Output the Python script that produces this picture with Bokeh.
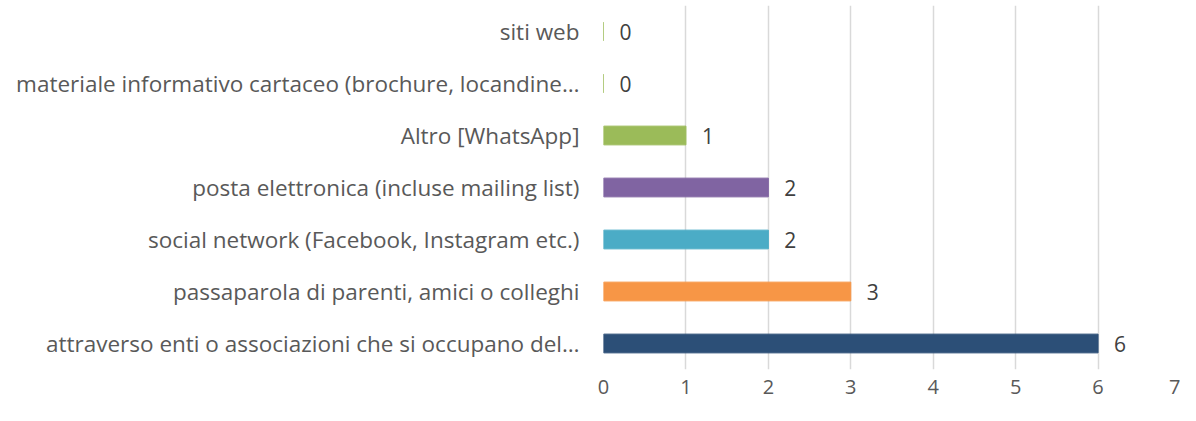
from bokeh.plotting import figure
from bokeh.models import FactorRange, Range1d, FixedTicker, ColumnDataSource
from bokeh.core.properties import value
from bokeh.embed import file_html
from bokeh.resources import INLINE

categories = [
    "attraverso enti o associazioni che si occupano del…",
    "passaparola di parenti, amici o colleghi",
    "social network (Facebook, Instagram etc.)",
    "posta elettronica (incluse mailing list)",
    "Altro [WhatsApp]",
    "materiale informativo cartaceo (brochure, locandine…",
    "siti web",
]
values = [6, 3, 2, 2, 1, 0, 0]
colors = ["#2C4F77", "#F79646", "#4BACC6", "#8064A2", "#9BBB59", "#9BBB59", "#9BBB59"]
x_ticks = [0, 1, 2, 3, 4, 5, 6, 7]

FONT = "Open Sans"

src = ColumnDataSource(dict(cat=categories, val=values, col=colors,
                            lab=[str(v) for v in values]))

p = figure(width=1180, height=405, output_backend="svg", toolbar_location=None,
           y_range=FactorRange(factors=categories, range_padding=0),
           x_range=Range1d(0, 7),
           min_border_left=603, min_border_right=0, min_border_top=5, min_border_bottom=36)
p.outline_line_color = None
p.background_fill_color = "white"
p.border_fill_color = "white"

p.hbar(y="cat", right="val", left=0, height=0.36, color="col", source=src)
p.text(x="val", y="cat", text="lab", source=src, x_offset=16,
       text_align="left", text_baseline="middle", text_color="#404040",
       text_font=value(FONT), text_font_size="21px")

p.ygrid.grid_line_color = None
p.xgrid.grid_line_color = "#D9D9D9"
p.xgrid.grid_line_width = 1.5
p.xaxis.ticker = FixedTicker(ticks=x_ticks)

for ax in (p.xaxis[0], p.yaxis[0]):
    ax.axis_line_color = None
    ax.major_tick_line_color = None
    ax.minor_tick_line_color = None
    ax.major_label_text_font = FONT
    ax.major_label_text_color = "#595959"
p.yaxis.major_label_text_font_size = "22.5px"
p.xaxis.major_label_text_font_size = "20px"
p.yaxis.major_label_standoff = 18
p.xaxis.major_label_standoff = 4

open("out.html", "w").write(file_html(p, INLINE))
